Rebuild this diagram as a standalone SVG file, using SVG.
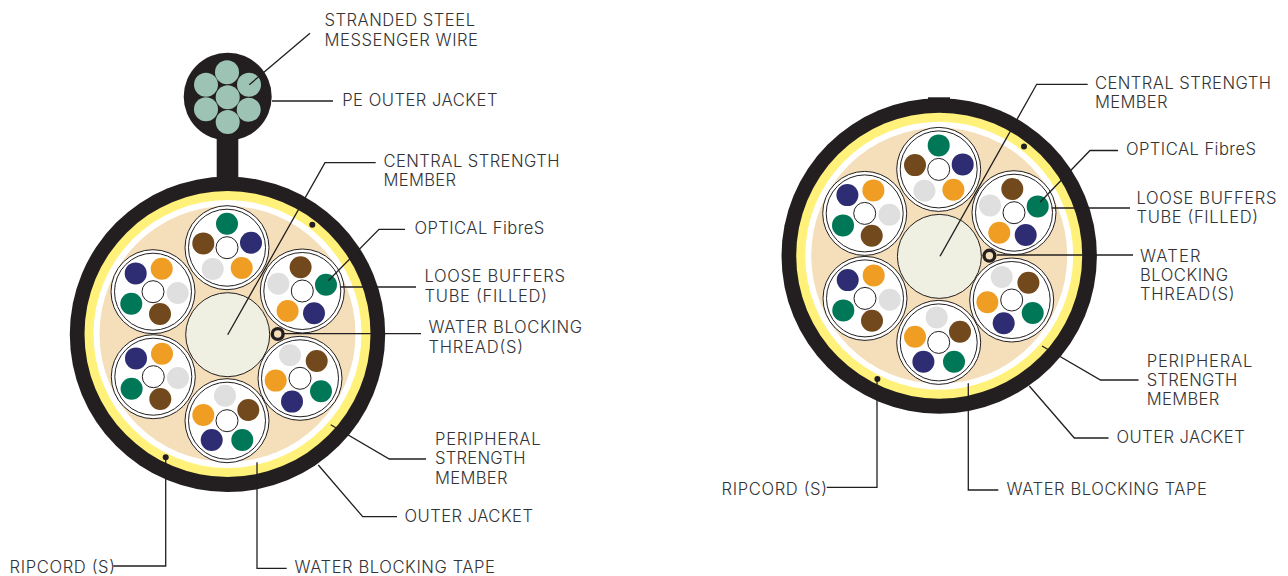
<svg xmlns="http://www.w3.org/2000/svg" xmlns:xlink="http://www.w3.org/1999/xlink" width="1288" height="576" viewBox="0 0 1288 576">
<style>
.bg{fill:#fff}
.k{fill:#231f20}
.y{fill:#fff17a}
.w{fill:#fff}
.t{fill:#f5dfbb}
.c{fill:#eff0e1;stroke:#231f20;stroke-width:1}
.r{fill:#fff;stroke:#231f20;stroke-width:1}
.s{fill:#9cc3b3}
.gn{fill:#007857}.nv{fill:#2e2d73}.or{fill:#ef9e23}.gy{fill:#dfdfdf}.br{fill:#71491c}
.th{fill:#f5dfbb;stroke:#231f20;stroke-width:3.4}
.l{fill:none;stroke:#231f20;stroke-width:1.3}
text{font-family:"Inter","Lato","Liberation Sans",sans-serif;font-weight:300;font-size:16.6px;fill:#333335}
</style>
<defs>
<g id="shell"><circle class="r" r="42"/><circle class="r" r="38.5"/></g>
<g id="tube-a"><use href="#shell"/><circle class="gn" cx="0" cy="-24" r="11"/><circle class="nv" cx="24" cy="-5" r="11"/><circle class="or" cx="14.7" cy="20.3" r="11"/><circle class="gy" cx="-14.3" cy="21.3" r="11"/><circle class="br" cx="-23.7" cy="-4.3" r="11"/><circle class="r" r="11"/></g>
<g id="tube-b"><use href="#shell"/><circle class="nv" cx="-17.3" cy="-18.3" r="11"/><circle class="or" cx="8.7" cy="-23" r="11"/><circle class="gy" cx="24.7" cy="1.3" r="11"/><circle class="br" cx="7" cy="22.3" r="11"/><circle class="gn" cx="-21.7" cy="12" r="11"/><circle class="r" r="11"/></g>
<g id="tube-c"><use href="#shell"/><circle class="br" cx="-1.7" cy="-23.7" r="11"/><circle class="gn" cx="23.7" cy="-6.3" r="11"/><circle class="nv" cx="11.7" cy="22.3" r="11"/><circle class="or" cx="-14.7" cy="20" r="11"/><circle class="gy" cx="-24" cy="-7.3" r="11"/><circle class="r" r="11"/></g>
<g id="tube-d"><use href="#shell"/><circle class="gy" cx="-10" cy="-23" r="11"/><circle class="br" cx="16.7" cy="-17.3" r="11"/><circle class="gn" cx="21" cy="13" r="11"/><circle class="nv" cx="-8" cy="23.3" r="11"/><circle class="or" cx="-24.3" cy="2.3" r="11"/><circle class="r" r="11"/></g>
<g id="tube-e"><use href="#shell"/><circle class="gy" cx="-2" cy="-25" r="11"/><circle class="br" cx="21.3" cy="-10.7" r="11"/><circle class="gn" cx="15.3" cy="19.3" r="11"/><circle class="nv" cx="-15.3" cy="19.3" r="11"/><circle class="or" cx="-23.7" cy="-5.7" r="11"/><circle class="r" r="11"/></g>
<g id="cable">
<circle class="k" cx="227.5" cy="334.3" r="157.7"/>
<circle class="y" cx="227.5" cy="334" r="143"/>
<circle class="w" cx="227.5" cy="334" r="134"/>
<circle class="t" cx="227.5" cy="334" r="128"/>
<circle class="c" cx="227.7" cy="334.7" r="42"/>
<use href="#tube-a" x="227" y="247.7"/>
<use href="#tube-b" x="153" y="291.7"/>
<use href="#tube-c" x="302.3" y="291"/>
<use href="#tube-b" x="153.3" y="376.7"/>
<use href="#tube-d" x="300" y="378.3"/>
<use href="#tube-e" x="227" y="420.7"/>
<circle class="th" cx="277.7" cy="334" r="5.4"/>
<circle class="k" cx="312.3" cy="224.7" r="3"/>
<circle class="k" cx="165.7" cy="457.3" r="3"/>
</g>
</defs>
<rect class="bg" width="1288" height="576"/>
<g id="messenger-wire">
<rect class="k" x="216.7" y="130" width="21.6" height="55"/>
<circle class="k" cx="227.7" cy="96.7" r="44"/>
<circle class="s" cx="227.7" cy="97.3" r="12"/>
<circle class="s" cx="227" cy="72.3" r="12"/>
<circle class="s" cx="206" cy="84.7" r="12"/>
<circle class="s" cx="249" cy="84.7" r="12"/>
<circle class="s" cx="206" cy="109.3" r="12"/>
<circle class="s" cx="248.7" cy="109.7" r="12"/>
<circle class="s" cx="227.7" cy="122" r="12"/>
</g>
<g id="cable-left"><use href="#cable"/></g>
<g id="cable-right">
<rect class="k" x="928" y="97.3" width="22" height="4"/>
<use href="#cable" transform="translate(711.7 -78.3)"/>
</g>
<g id="connectors">
<path class="l" d="M249.3 84.7L310 33.3"/>
<path class="l" d="M272 101H333"/>
<path class="l" d="M227.7 334.7L325 162.7H375.7"/>
<path class="l" d="M328.3 280.7L379 229.3H405"/>
<path class="l" d="M340.7 287H416"/>
<path class="l" d="M283 333.7H421"/>
<path class="l" d="M330.7 424.7L389.3 459H426"/>
<path class="l" d="M318.3 465L362.7 516.7H397"/>
<path class="l" d="M165.7 457V566H113.3"/>
<path class="l" d="M257 462.3V568.3H286.7"/>
<path class="l" d="M940 256.3L1036.7 84.3H1087.7"/>
<path class="l" d="M1040 202.3L1090 150.5H1118"/>
<path class="l" d="M1051.7 208H1130"/>
<path class="l" d="M996.7 255H1133"/>
<path class="l" d="M1042 346L1100.5 380H1138.5"/>
<path class="l" d="M1029.3 386L1074.3 438H1108.5"/>
<path class="l" d="M877 379V487.3H826.7"/>
<path class="l" d="M968.3 383.3V490H998.3"/>
</g>
<g id="labels">
<text x="324.5" y="26.3" textLength="150.5">STRANDED STEEL</text>
<text x="324.5" y="46" textLength="153.5">MESSENGER WIRE</text>
<text x="342.2" y="106" textLength="155.3">PE OUTER JACKET</text>
<text x="383.5" y="166.7" textLength="176">CENTRAL STRENGTH</text>
<text x="383.5" y="186" textLength="72.5">MEMBER</text>
<text x="414.5" y="234" textLength="129.8">OPTICAL FibreS</text>
<text x="424.5" y="282.3" textLength="140.5">LOOSE BUFFERS</text>
<text x="424.5" y="302" textLength="122.5">TUBE (FILLED)</text>
<text x="428.5" y="333.3" textLength="153.5">WATER BLOCKING</text>
<text x="428.5" y="353" textLength="94.5">THREAD(S)</text>
<text x="435" y="444.5" textLength="105.5">PERIPHERAL</text>
<text x="435" y="464" textLength="90.5">STRENGTH</text>
<text x="435" y="483.5" textLength="72.5">MEMBER</text>
<text x="404.5" y="522" textLength="128.5">OUTER JACKET</text>
<text x="9.5" y="572.7" textLength="105.5">RIPCORD (S)</text>
<text x="294.5" y="572.7" textLength="200.5">WATER BLOCKING TAPE</text>
<text x="1095" y="89" textLength="176">CENTRAL STRENGTH</text>
<text x="1095" y="108" textLength="72.5">MEMBER</text>
<text x="1126" y="155" textLength="130">OPTICAL FibreS</text>
<text x="1136.5" y="204" textLength="140">LOOSE BUFFERS</text>
<text x="1136.5" y="223" textLength="121.5">TUBE (FILLED)</text>
<text x="1140" y="261.7" textLength="60.5">WATER</text>
<text x="1140" y="281" textLength="88">BLOCKING</text>
<text x="1140" y="300" textLength="94.5">THREAD(S)</text>
<text x="1146.8" y="366.7" textLength="105.5">PERIPHERAL</text>
<text x="1146.8" y="386" textLength="90.5">STRENGTH</text>
<text x="1146.8" y="405" textLength="72.5">MEMBER</text>
<text x="1116.5" y="443.3" textLength="128.2">OUTER JACKET</text>
<text x="721.5" y="495" textLength="105.5">RIPCORD (S)</text>
<text x="1006.5" y="495" textLength="200.5">WATER BLOCKING TAPE</text>
</g>
</svg>
